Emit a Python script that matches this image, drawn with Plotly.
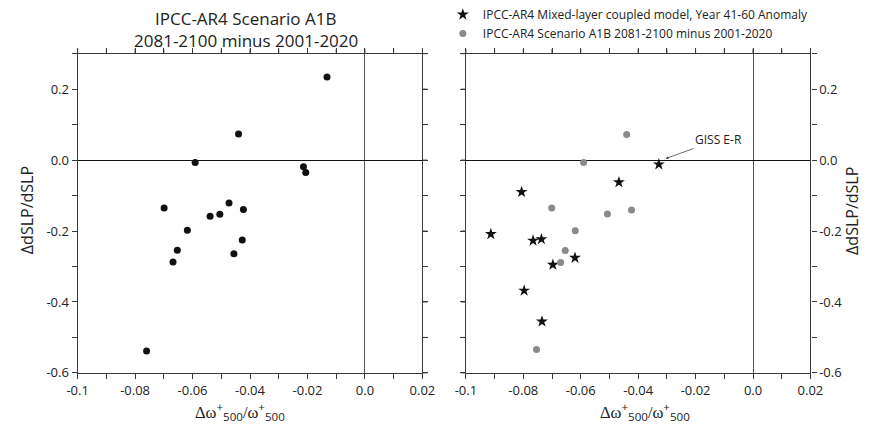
import plotly.graph_objects as go

# ---- data ----
# Left panel: IPCC-AR4 Scenario A1B, 2081-2100 minus 2001-2020
left_x = [-0.0132, -0.0440, -0.0591, -0.0214, -0.0206, -0.0699, -0.0473, -0.0423,
          -0.0539, -0.0505, -0.0618, -0.0653, -0.0668, -0.0456, -0.0427, -0.0760]
left_y = [0.234, 0.0735, -0.007, -0.019, -0.035, -0.135, -0.121, -0.139,
          -0.158, -0.153, -0.198, -0.254, -0.287, -0.264, -0.225, -0.538]

# Right panel: grey dots (subset of A1B)
grey_x = [-0.0440, -0.0590, -0.0701, -0.0507, -0.0423, -0.0619, -0.0654, -0.0670, -0.0754]
grey_y = [0.072, -0.007, -0.135, -0.152, -0.141, -0.199, -0.255, -0.289, -0.534]

# Right panel: stars (mixed-layer coupled model)
star_x = [-0.0328, -0.0467, -0.0806, -0.0913, -0.0766, -0.0737, -0.0620, -0.0697, -0.0797, -0.0735]
star_y = [-0.012, -0.0625, -0.090, -0.2085, -0.227, -0.223, -0.2755, -0.295, -0.368, -0.455]

x_tickvals = [-0.1, -0.08, -0.06, -0.04, -0.02, 0.0, 0.02]
x_ticktext = ["-0.1", "-0.08", "-0.06", "-0.04", "-0.02", "0.0", "0.02"]
y_tickvals = [-0.6, -0.4, -0.2, 0.0, 0.2]
y_ticktext = ["-0.6", "-0.4", "-0.2", "0.0", "0.2"]
x_range = [-0.1, 0.02]
y_range = [-0.6, 0.3]
x_minor_step = 0.01
y_minor_step = 0.1

giss_label = "GISS E-R"
giss_x, giss_y = -0.0304, 0.0044

W, H = 875, 437
FONT = "Open Sans"
LINE = "#3a3a3a"
TICKLEN = 5

fig = go.Figure()
fig.add_trace(go.Scatter(x=left_x, y=left_y, mode="markers", xaxis="x", yaxis="y",
                         marker=dict(color="#111111", size=7, symbol="circle"),
                         showlegend=False))
fig.add_trace(go.Scatter(x=star_x, y=star_y, mode="markers", xaxis="x2", yaxis="y2",
                         name="IPCC-AR4 Mixed-layer coupled model, Year 41-60 Anomaly",
                         marker=dict(color="#111111", size=9, symbol="star"),
                         legendrank=1))
fig.add_trace(go.Scatter(x=grey_x, y=grey_y, mode="markers", xaxis="x2", yaxis="y2",
                         name="IPCC-AR4 Scenario A1B 2081-2100 minus 2001-2020",
                         marker=dict(color="#8a8a8a", size=7, symbol="circle"),
                         legendrank=2))

ydom = [1 - 380.5 / H, 1 - 53 / H]
dom1 = [68.5 / W, 423 / W]
dom2 = [467.7 / W, 822 / W]

tickstyle = dict(ticks="outside", ticklen=TICKLEN, tickwidth=1, tickcolor=LINE)
tickfont = dict(family=FONT, size=13, color="#222222")


def xax(domain, anchor):
    return dict(domain=domain, anchor=anchor, range=x_range,
                tickvals=x_tickvals, ticktext=x_ticktext,
                minor=dict(dtick=x_minor_step, tick0=0, **tickstyle),
                showline=True, linecolor=LINE, linewidth=1.2, mirror="ticks",
                showgrid=False, zeroline=True, zerolinecolor="#555555", zerolinewidth=1.2,
                tickfont=tickfont, **tickstyle)


def yax(domain, anchor, side):
    return dict(domain=domain, anchor=anchor, side=side, range=y_range,
                tickvals=y_tickvals, ticktext=y_ticktext,
                minor=dict(dtick=y_minor_step, tick0=0, **tickstyle),
                showline=True, linecolor=LINE, linewidth=1.2, mirror="ticks",
                showgrid=False, zeroline=True, zerolinecolor="#111111", zerolinewidth=1.2,
                tickfont=tickfont, **tickstyle)


fig.update_layout(
    width=W, height=H,
    margin=dict(l=0, r=0, t=0, b=0),
    paper_bgcolor="white", plot_bgcolor="white",
    xaxis=xax(dom1, "y"),
    yaxis=yax(ydom, "x", "left"),
    xaxis2=xax(dom2, "y2"),
    yaxis2=yax(ydom, "x2", "right"),
    legend=dict(x=444 / W, y=1 + 2 / H, xanchor="left", yanchor="top",
                font=dict(family=FONT, size=12, color="#222222"),
                bgcolor="rgba(0,0,0,0)", tracegroupgap=0, itemwidth=30),
    showlegend=True,
)

# mirrored tick marks on the opposite frame sides (top, and right / left),
# placed in paper coordinates from the axis tick values so they are never clipped
n_x = int(round((x_range[1] - x_range[0]) / x_minor_step)) + 1
n_y = int(round((y_range[1] - y_range[0]) / y_minor_step)) + 1
x_ticks_all = [x_range[0] + i * x_minor_step for i in range(n_x)]
y_ticks_all = [y_range[0] + i * y_minor_step for i in range(n_y)]


def to_paper(v, rng, dom):
    return dom[0] + (v - rng[0]) / (rng[1] - rng[0]) * (dom[1] - dom[0])


shapes = []
tick_line = dict(color=LINE, width=1)
for dom, edge, outward in ((dom1, dom1[1], 1), (dom2, dom2[0], -1)):
    for v in x_ticks_all:
        px = to_paper(v, x_range, dom)
        shapes.append(dict(type="line", xref="paper", yref="paper", layer="above",
                           x0=px, x1=px, y0=ydom[1], y1=ydom[1] + TICKLEN / H, line=tick_line))
    for v in y_ticks_all:
        py = to_paper(v, y_range, ydom)
        shapes.append(dict(type="line", xref="paper", yref="paper", layer="above",
                           x0=edge, x1=edge + outward * TICKLEN / W, y0=py, y1=py, line=tick_line))
fig.update_layout(shapes=shapes)

xtitle = ("<span style='font-family:Liberation Serif'>\u0394\u03c9</span><sup>+</sup><sub>500</sub>"
          "<span style='font-family:Liberation Serif'>/\u03c9</span><sup>+</sup><sub>500</sub>")

annotations = []
for text, cx, cy in (("IPCC-AR4 Scenario A1B", 241, 16.5),
                     ("2081-2100 minus 2001-2020", 241.5, 40)):
    annotations.append(dict(text=text, x=cx / W, y=1 - cy / H, xref="paper", yref="paper",
                            xanchor="center", yanchor="middle", showarrow=False,
                            font=dict(family=FONT, size=17, color="#222222")))
for cx in (235, 652):
    annotations.append(dict(text=xtitle, x=cx / W, y=1 - 420 / H, xref="paper", yref="paper",
                            xanchor="center", yanchor="middle", showarrow=False,
                            font=dict(family=FONT, size=16.5, color="#222222")))
for cx in (16, 864):
    annotations.append(dict(text="\u0394dSLP/dSLP", x=cx / W, y=1 - 214 / H, xref="paper", yref="paper",
                            xanchor="center", yanchor="middle", showarrow=False, textangle=-90,
                            font=dict(family=FONT, size=16, color="#222222")))
annotations.append(dict(text=giss_label, x=giss_x, y=giss_y, xref="x2", yref="y2",
                        showarrow=True, ax=53, ay=-19, arrowhead=2, arrowsize=0.7,
                        arrowwidth=0.8, arrowcolor="#444444",
                        font=dict(family=FONT, size=12, color="#222222")))
fig.update_layout(annotations=annotations)

fig.write_html("out.html")
